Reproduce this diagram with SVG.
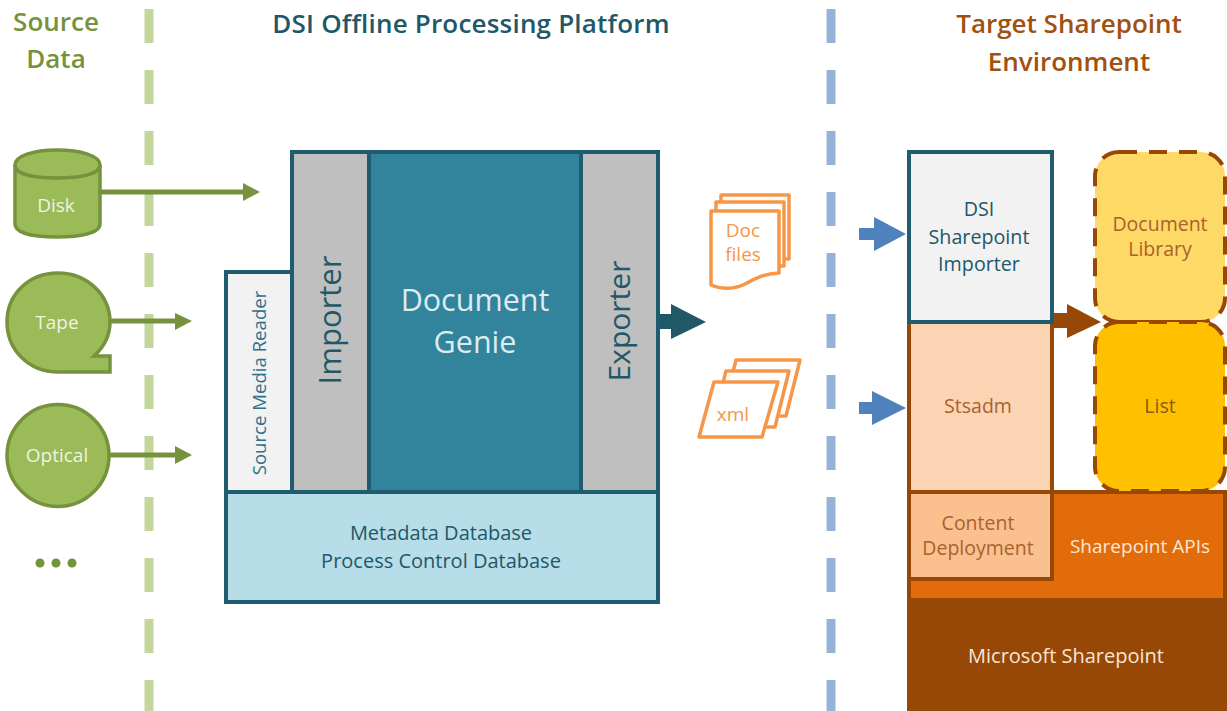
<svg xmlns="http://www.w3.org/2000/svg" width="1227" height="711" viewBox="0 0 1227 711">
<style>
text{font-family:"Open Sans","Noto Sans","DejaVu Sans",sans-serif;text-anchor:middle}
.h{font-size:26px;font-weight:600}
.teal{stroke:#1f5c70;stroke-width:4}
.src{fill:#9bbb59;stroke:#76923c;stroke-width:3.5}
.srct{fill:#eef4e0;font-size:19px}
.grn{stroke:#76923c;stroke-width:5;fill:none}
.dk{fill:#76923c}
.doc{fill:#fff;stroke:#f79646;stroke-width:3.5;stroke-linejoin:round}
.o{fill:#f79646;font-size:19px}
.b{fill:#4f81bd}
.br{stroke:#974706;stroke-width:4}
.brt{fill:#a9622e;font-size:19.5px}
.dash{stroke:#974706;stroke-width:4;stroke-dasharray:18 12}
</style>
<rect width="1227" height="711" fill="#fff"/>
<g id="dividers">
<path d="M149 9V711" stroke="#c3d69b" stroke-width="9" stroke-dasharray="34 27"/>
<path d="M831 9V711" stroke="#95b3d7" stroke-width="9" stroke-dasharray="34 27"/>
</g>
<g id="titles">
<text class="h" x="56" y="31" fill="#76923c">Source</text>
<text class="h" x="56" y="68" fill="#76923c">Data</text>
<text class="h" x="471" y="33" fill="#215868" letter-spacing=".2">DSI Offline Processing Platform</text>
<text class="h" x="1069" y="33" fill="#a0500f">Target Sharepoint</text>
<text class="h" x="1069" y="71" fill="#a0500f">Environment</text>
</g>
<g id="connectors">
<path class="grn" d="M100 192H246"/><path class="dk" d="M243 183L260 192L243 201Z"/>
<path class="grn" d="M110 321H177"/><path class="dk" d="M175 313L192 321L175 330Z"/>
<path class="grn" d="M110 455H177"/><path class="dk" d="M175 446L192 455L175 464Z"/>
<path fill="#215868" d="M658 314H671V304L706 322L671 339V329H658Z"/>
<path class="b" d="M859 228H874V217L906 234L874 251V240H859Z"/>
<path class="b" d="M859 402H872V391L906 408L872 425V414H859Z"/>
<path fill="#974706" d="M1052 313H1067V304L1101 322L1067 338V328H1052Z"/>
</g>
<g id="disk">
<path class="src" d="M15 165V224C15 233 33 237 57 237C81 237 100 233 100 224V165C100 156 81 150 57 150C33 150 15 156 15 165Z"/>
<path class="src" d="M15 165C15 174 33 178 57 178C81 178 100 174 100 165"/>
<text class="srct" x="56" y="212">Disk</text>
</g>
<g id="tape">
<path class="src" stroke-linejoin="miter" d="M58 372C29 372 7 350 7 322C7 294 29 273 58 273C87 273 110 295 110 322C110 335 104 347 94 356H110V372Z"/>
<text class="srct" x="57" y="329">Tape</text>
</g>
<g id="optical">
<circle class="src" cx="58" cy="455.5" r="51"/>
<text class="srct" x="57" y="462">Optical</text>
</g>
<g id="ellipsis" class="dk"><circle cx="40" cy="563" r="4.5"/><circle cx="56" cy="563" r="4.5"/><circle cx="72" cy="563" r="4.5"/></g>
<g id="source-media-reader">
<rect class="teal" x="226" y="272" width="66" height="220" fill="#f2f2f2"/>
<text transform="translate(266 383) rotate(-90)" font-size="18.6" fill="#31708a">Source Media Reader</text>
</g>
<g id="importer">
<rect class="teal" x="292" y="152" width="77" height="340" fill="#bfbfbf"/>
<text transform="translate(341 320) rotate(-90)" font-size="31" fill="#215868">Importer</text>
</g>
<g id="document-genie">
<rect class="teal" x="369" y="152" width="212" height="340" fill="#31849b"/>
<text x="475" y="311" font-size="30.5" fill="#dcecf0">Document</text>
<text x="475" y="353" font-size="30.5" fill="#dcecf0">Genie</text>
</g>
<g id="exporter">
<rect class="teal" x="581" y="152" width="77" height="340" fill="#bfbfbf"/>
<text transform="translate(630 321) rotate(-90)" font-size="30" fill="#215868">Exporter</text>
</g>
<g id="database">
<rect class="teal" x="226" y="492" width="432" height="110" fill="#b7dde8"/>
<text x="441" y="540" font-size="20" fill="#215868">Metadata Database</text>
<text x="441" y="568" font-size="20" fill="#215868">Process Control Database</text>
</g>
<g id="doc-files">
<rect class="doc" x="721" y="195" width="68" height="64"/>
<rect class="doc" x="716" y="202" width="68" height="64"/>
<path class="doc" d="M711 211H779V273C762 274 755 279 745 284C735 289 722 290 711 285Z"/>
<text class="o" x="743" y="237">Doc</text>
<text class="o" x="743" y="261">files</text>
</g>
<g id="xml">
<path class="doc" d="M736 360H800L786 416H722Z"/>
<path class="doc" d="M726 371H789L775 427H712Z"/>
<path class="doc" d="M714 382H778L762 437H699Z"/>
<text class="o" x="733" y="421">xml</text>
</g>
<g id="microsoft-sharepoint">
<rect x="907" y="600" width="320" height="111" fill="#974706"/>
<text x="1066" y="663" font-size="20" fill="#f7e6d6">Microsoft Sharepoint</text>
</g>
<g id="sharepoint-apis">
<path d="M909 492H1225V600H909Z" fill="#e36c0a" stroke="#974706" stroke-width="4"/>
<rect x="907" y="600" width="320" height="3" fill="#974706"/>
<text x="1140" y="553" font-size="19" fill="#fbe7d5">Sharepoint APIs</text>
</g>
<g id="stsadm">
<rect class="br" x="909" y="322" width="143" height="170" fill="#fbd4b4"/>
<text class="brt" x="978" y="413">Stsadm</text>
</g>
<g id="content-deployment">
<rect class="br" x="909" y="492" width="143" height="87" fill="#fac090"/>
<text class="brt" x="978" y="530">Content</text>
<text class="brt" x="978" y="555">Deployment</text>
</g>
<g id="dsi-importer">
<rect class="teal" x="909" y="152" width="143" height="170" fill="#f2f2f2"/>
<text x="979" y="216" font-size="19.7" fill="#215868">DSI</text>
<text x="979" y="244" font-size="19.7" fill="#215868">Sharepoint</text>
<text x="979" y="271" font-size="19.7" fill="#215868">Importer</text>
</g>
<g id="document-library">
<rect class="dash" x="1095" y="152" width="130" height="170" rx="24" fill="#ffd966"/>
<text class="brt" x="1160" y="231">Document</text>
<text class="brt" x="1160" y="256">Library</text>
</g>
<g id="list">
<rect class="dash" x="1095" y="322" width="130" height="169" rx="24" fill="#ffc000"/>
<text x="1160" y="413" font-size="19.5" fill="#8a5a12">List</text>
</g>
</svg>
